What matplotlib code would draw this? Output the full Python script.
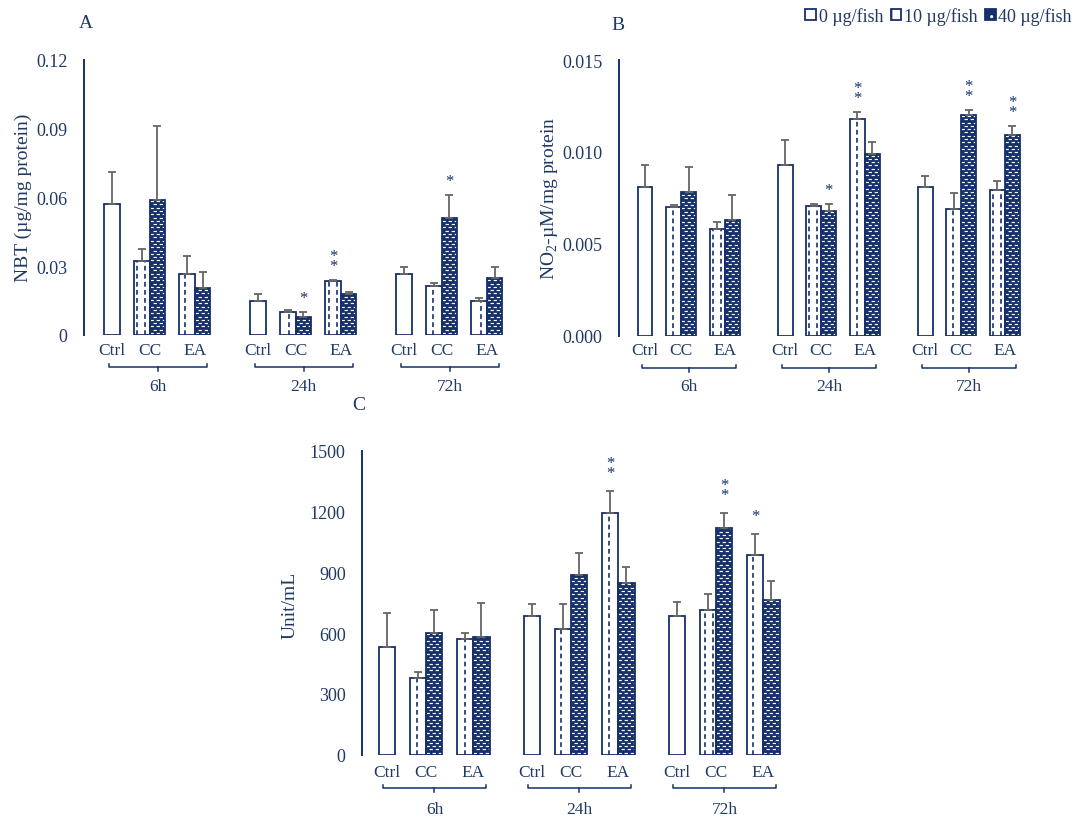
import numpy as np
import matplotlib
matplotlib.use("Agg")
import matplotlib.pyplot as plt
import matplotlib.patches as mpatches
from matplotlib.collections import LineCollection
from matplotlib.legend_handler import HandlerTuple

plt.rcParams['font.family'] = ['Liberation Serif', 'DejaVu Serif']
plt.rcParams['mathtext.fontset'] = 'custom'
plt.rcParams['mathtext.rm'] = 'Liberation Serif'
plt.rcParams['lines.scale_dashes'] = False

NAVY = '#16306b'
TEXT = '#1f3864'
ERR = '#666666'

# ---------------- data ----------------
times = ['6h', '24h', '72h']
treatments = ['Ctrl', 'CC', 'EA']
doses = ['0 µg/fish', '10 µg/fish', '40 µg/fish']
# bars within each time point: Ctrl, CC 10, CC 40, EA 10, EA 40
bar_dose = [0, 1, 2, 1, 2]

# A: NBT (µg/mg protein)
nbt_mean = [[0.0572, 0.0322, 0.0588, 0.0266, 0.0204],
            [0.0147, 0.0100, 0.0077, 0.0234, 0.0180],
            [0.0265, 0.0212, 0.0511, 0.0147, 0.0250]]
nbt_err = [[0.0141, 0.0055, 0.0323, 0.0079, 0.0070],
           [0.0032, 0.0008, 0.0022, 0.0006, 0.0006],
           [0.0033, 0.0015, 0.0100, 0.0016, 0.0048]]
nbt_sig = [['', '', '', '', ''],
           ['', '', '*', '**', ''],
           ['', '', '*', '', '']]

# B: NO2 (µM/mg protein)
no_mean = [[0.00811, 0.00699, 0.00784, 0.00580, 0.00631],
           [0.00929, 0.00707, 0.00678, 0.01179, 0.00987],
           [0.00811, 0.00688, 0.01199, 0.00793, 0.01094]]
no_err = [[0.00120, 0.00010, 0.00134, 0.00040, 0.00133],
          [0.00134, 0.00010, 0.00037, 0.00038, 0.00065],
          [0.00058, 0.00087, 0.00029, 0.00047, 0.00047]]
no_sig = [['', '', '', '', ''],
          ['', '', '*', '**', ''],
          ['', '', '**', '', '**']]

# C: activity (Unit/mL)
unit_mean = [[533, 380, 602, 572, 581],
             [686, 620, 888, 1194, 849],
             [686, 715, 1118, 983, 763]]
unit_err = [[164, 28, 113, 28, 166],
            [59, 125, 105, 107, 79],
            [67, 78, 76, 106, 96]]
unit_sig = [['', '', '', '', ''],
            ['', '', '', '**', ''],
            ['', '', '**', '*', '']]

nbt_ticks = [0, 0.03, 0.06, 0.09, 0.12]
nbt_ticklabels = ['0', '0.03', '0.06', '0.09', '0.12']
no_ticks = [0, 0.005, 0.010, 0.015]
no_ticklabels = ['0.000', '0.005', '0.010', '0.015']
unit_ticks = [0, 300, 600, 900, 1200, 1500]
unit_ticklabels = ['0', '300', '600', '900', '1200', '1500']

# ---------------- layout ----------------
FW, FH = 1077, 820
fig = plt.figure(figsize=(FW / 100, FH / 100), dpi=100)

OFFSETS = np.array([0.0, 1.93, 2.93, 4.85, 5.85])


def fig_rect(left, top, right, bottom):
    return [left / FW, 1 - bottom / FH, (right - left) / FW, (bottom - top) / FH]


def draw_panel(box, bar_px, step, first_px, ymax, means, errs, sigs,
               ticks, ticklabels, text_dy, star_gap):
    left, top, right, bottom = box
    ax = fig.add_axes(fig_rect(left, top, right, bottom))
    height_px = bottom - top
    x0 = -first_px / bar_px
    ax.set_xlim(x0, x0 + (right - left) / bar_px)
    ax.set_ylim(0, ymax)
    ypx = height_px / ymax  # pixels per data unit

    for s in ['top', 'right', 'bottom']:
        ax.spines[s].set_visible(False)
    ax.spines['left'].set_color(NAVY)
    ax.spines['left'].set_linewidth(1.4)
    ax.set_xticks([])
    ax.set_yticks(ticks)
    ax.set_yticklabels(ticklabels)
    ax.tick_params(axis='y', length=0, pad=12, labelsize=13, labelcolor=TEXT)
    ax.patch.set_alpha(0)

    cat_dy, br_dy, grp_dy = text_dy
    for g, t in enumerate(times):
        xs = g * step + OFFSETS
        m = np.array(means[g], dtype=float)
        e = np.array(errs[g], dtype=float)
        for x, h, dose in zip(xs, m, bar_dose):
            if dose == 2:
                # navy bar with a white brick pattern
                fill = ax.bar(x, h, width=1.0, color=NAVY, linewidth=0, zorder=2)[0]
                row = 3.3 / ypx
                ys = np.arange(row * 0.6, h, row)
                for k, off in enumerate([0.0, 2.2]):
                    segs = [[(x - 0.5, y), (x + 0.5, y)] for y in ys[k::2]]
                    lc = LineCollection(segs, colors='white', linewidths=0.85,
                                        linestyles=[(off, (2.4, 2.0))], zorder=3)
                    lc.set_clip_path(fill)
                    ax.add_collection(lc)
            else:
                ax.bar(x, h, width=1.0, color='white', linewidth=0, zorder=2)
                if dose == 1:
                    # white bar with vertical dashed lines on an 8 px grid
                    bl = left + (x - 0.5 - x0) * bar_px
                    br = left + (x + 0.5 - x0) * bar_px
                    p = np.ceil((bl - 1) / 8) * 8 + 1
                    while p < br:
                        if bl + 2.5 < p < br - 2.5:
                            xd = x0 + (p - left) / bar_px
                            ax.vlines(xd, 0, h, colors=NAVY, linewidth=1.2,
                                      linestyles=[(0, (3.4, 2.4))], zorder=3)
                        p += 8
            ax.bar(x, h, width=1.0, fill=False, edgecolor=NAVY,
                   linewidth=1.3, zorder=4)
        ax.errorbar(xs, m, yerr=[np.zeros_like(e), e], fmt='none', ecolor=ERR,
                    elinewidth=1.3, capsize=3.2, capthick=1.3, zorder=5)
        for x, h, er, s in zip(xs, m, e, sigs[g]):
            if s:
                n = len(s)
                ax.annotate('\n'.join('*' * n), xy=(x, h + er),
                            xytext=(0, (star_gap + 5 * (n - 1)) * 0.72),
                            textcoords='offset points', ha='center', va='center',
                            fontsize=12, linespacing=0.52, color=NAVY)
        # category labels
        label_x = [xs[0], (xs[1] + xs[2]) / 2, (xs[3] + xs[4]) / 2]
        for lx, lab in zip(label_x, treatments):
            ax.annotate(lab, xy=(lx, 0), xycoords=('data', 'axes fraction'),
                        xytext=(0, -cat_dy * 0.72), textcoords='offset points',
                        ha='center', va='center', fontsize=12.5, color=TEXT)
        # bracket under each time point
        bx0 = xs[0] - 0.2
        bx1 = xs[4] + 0.25
        bxm = (bx0 + bx1) / 2
        yb = -br_dy / height_px
        trans = ax.get_xaxis_transform()
        ax.plot([bx0, bx0, bx1, bx1], [yb + 3 / height_px, yb, yb, yb + 3 / height_px],
                color=NAVY, lw=1.1, transform=trans, clip_on=False,
                solid_joinstyle='round')
        ax.plot([bxm, bxm], [yb, yb - 4 / height_px], color=NAVY, lw=1.1,
                transform=trans, clip_on=False)
        ax.annotate(t, xy=(bxm, 0), xycoords=('data', 'axes fraction'),
                    xytext=(0, -grp_dy * 0.72), textcoords='offset points',
                    ha='center', va='center', fontsize=12.5, color=TEXT)
    return ax


draw_panel((84, 61, 520, 336), 15.5, 9.42, 28, 0.12, nbt_mean, nbt_err, nbt_sig,
           nbt_ticks, nbt_ticklabels, (15.5, 32, 51), 14)
draw_panel((619.3, 61, 1065, 336.7), 14.9, 9.4, 25.7, 0.015, no_mean, no_err, no_sig,
           no_ticks, no_ticklabels, (14, 32.5, 50), 14)
draw_panel((362.3, 451.7, 800, 755.7), 16.2, 8.95, 24.4, 1500, unit_mean, unit_err,
           unit_sig, unit_ticks, unit_ticklabels, (17, 33.3, 54), 18)


def ftext(x, y, s, **kw):
    fig.text(x / FW, 1 - y / FH, s, color=TEXT, **kw)


# axis titles and panel letters
ftext(23, 198, 'NBT (µg/mg protein)', rotation=90, ha='center', va='center', fontsize=14)
ftext(550, 199, r'NO$_\mathrm{2}$-µM/mg protein', rotation=90, ha='center', va='center',
      fontsize=14)
ftext(290, 605, 'Unit/mL', rotation=90, ha='center', va='center', fontsize=14)
ftext(86, 24, 'A', ha='center', va='center', fontsize=14)
ftext(618, 25, 'B', ha='center', va='center', fontsize=14)
ftext(359, 406, 'C', ha='center', va='center', fontsize=14)

# legend
h0 = mpatches.Patch(facecolor='white', edgecolor=NAVY, linewidth=1.3)
h1 = mpatches.Patch(facecolor='white', edgecolor=NAVY, linewidth=1.3, hatch='|')
h2a = mpatches.Patch(facecolor=NAVY, edgecolor='white', linewidth=0, hatch='..')
h2b = mpatches.Patch(fill=False, edgecolor=NAVY, linewidth=1.3)
leg = fig.legend([h0, h1, (h2a, h2b)], doses,
                 handler_map={tuple: HandlerTuple(ndivide=1, pad=0)},
                 loc='center right', bbox_to_anchor=(1072 / FW, 1 - 17 / FH),
                 ncol=3, frameon=False, fontsize=13, handlelength=0.6,
                 handleheight=0.6, handletextpad=0.15, columnspacing=0.4,
                 borderpad=0, borderaxespad=0)
for txt in leg.get_texts():
    txt.set_color(TEXT)

fig.savefig('out.png', dpi=100)
